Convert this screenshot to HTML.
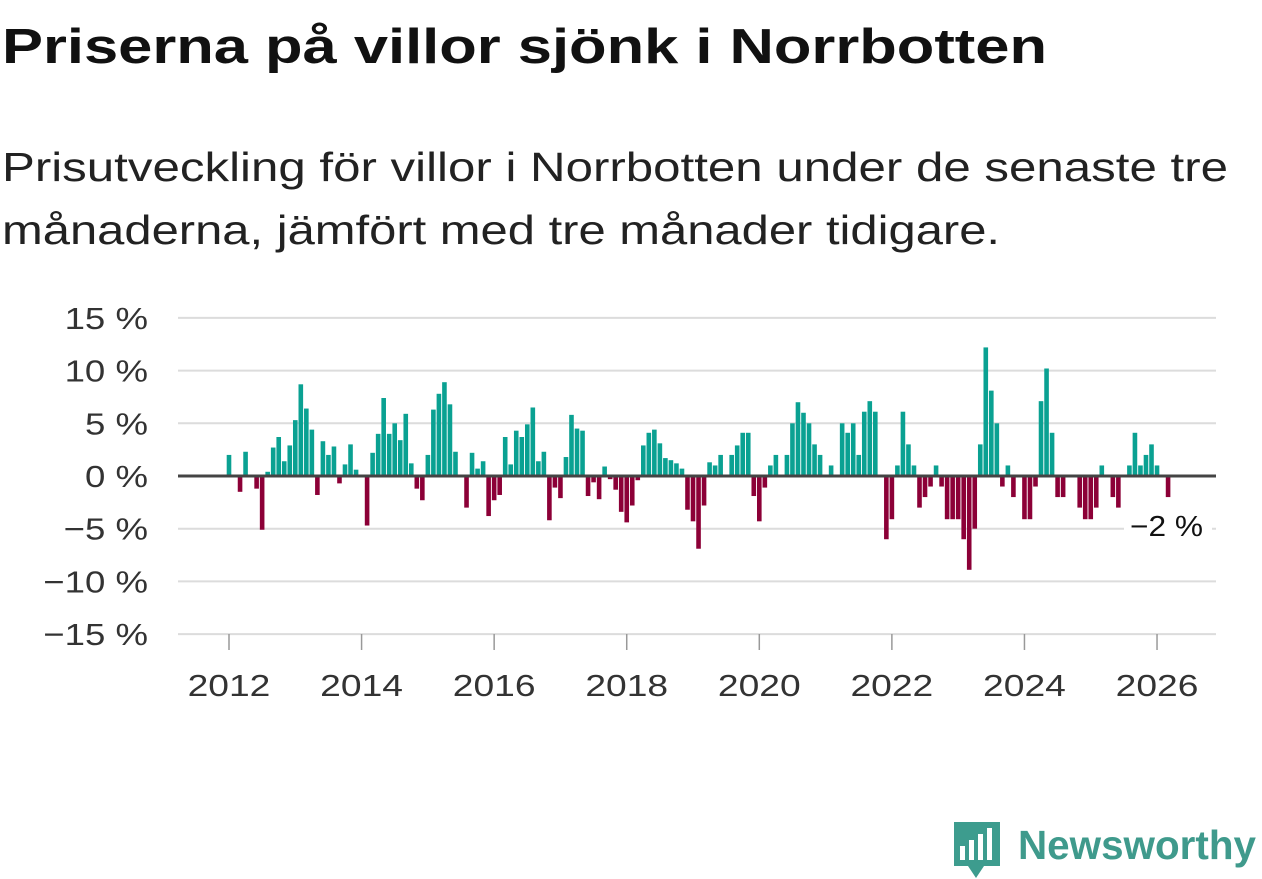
<!DOCTYPE html>
<html><head><meta charset="utf-8"><style>
html,body{margin:0;padding:0;background:#fff;}
svg{display:block;font-family:"Liberation Sans",sans-serif;}
</style></head><body>
<svg id="chart" width="1262" height="879" viewBox="0 0 1262 879" xmlns="http://www.w3.org/2000/svg">
<text x="2" y="63" font-size="49" font-weight="bold" fill="#111" textLength="1045" lengthAdjust="spacingAndGlyphs">Priserna på villor sjönk i Norrbotten</text>
<text x="2" y="181" font-size="41" fill="#222" textLength="1226" lengthAdjust="spacingAndGlyphs">Prisutveckling för villor i Norrbotten under de senaste tre</text>
<text x="2" y="244" font-size="41" fill="#222" textLength="998" lengthAdjust="spacingAndGlyphs">månaderna, jämfört med tre månader tidigare.</text>
<g id="grid"></g><g id="bars"></g><g id="axes"></g>
<g>
<rect x="1124" y="508" width="88" height="36" fill="#fff"/>
<text x="1130" y="536" font-size="29" fill="#111" textLength="73" lengthAdjust="spacingAndGlyphs">−2 %</text>
</g>
<g>
<path d="M954 822 h46 v44 h-16 l-8 12 l-8 -12 h-14 z" fill="#3d9c8e"/>
<rect x="960" y="846" width="5" height="14" fill="#fff"/>
<rect x="969" y="840" width="5" height="20" fill="#fff"/>
<rect x="978" y="834" width="5" height="26" fill="#fff"/>
<rect x="987" y="828" width="5" height="32" fill="#fff"/>
<text x="1018" y="859" font-size="41" font-weight="bold" fill="#3f9a8c" textLength="238" lengthAdjust="spacingAndGlyphs">Newsworthy</text>
</g>
</svg>
<script>
const values = [2.0,0,-1.5,2.3,0,-1.2,-5.1,0.4,2.7,3.7,1.4,2.9,5.3,8.7,6.4,4.4,-1.8,3.3,2.0,2.8,-0.7,1.1,3.0,0.6,0,-4.7,2.2,4.0,7.4,4.0,5.0,3.4,5.9,1.2,-1.2,-2.3,2.0,6.3,7.8,8.9,6.8,2.3,0,-3.0,2.2,0.7,1.4,-3.8,-2.3,-1.8,3.7,1.1,4.3,3.7,4.9,6.5,1.4,2.3,-4.2,-1.1,-2.1,1.8,5.8,4.5,4.3,-1.9,-0.6,-2.2,0.9,-0.3,-1.3,-3.4,-4.4,-2.8,-0.4,2.9,4.1,4.4,3.1,1.7,1.5,1.2,0.7,-3.2,-4.3,-6.9,-2.8,1.3,1.0,2.0,0,2.0,2.9,4.1,4.1,-1.9,-4.3,-1.1,1.0,2.0,0,2.0,5.0,7.0,6.0,5.0,3.0,2.0,0,1.0,0,5.0,4.1,5.0,2.0,6.1,7.1,6.1,0,-6.0,-4.1,1.0,6.1,3.0,1.0,-3.0,-2.0,-1.0,1.0,-1.0,-4.1,-4.1,-4.1,-6.0,-8.9,-5.0,3.0,12.2,8.1,5.0,-1.0,1.0,-2.0,0,-4.1,-4.1,-1.0,7.1,10.2,4.1,-2.0,-2.0,0,0,-3.0,-4.1,-4.1,-3.0,1.0,0,-2.0,-3.0,0,1.0,4.1,1.0,2.0,3.0,1.0,0,-2.0];
const startYear = 2012;
const yTicks = [15,10,5,0,-5,-10,-15];
const yTickLabels = ["15 %","10 %","5 %","0 %","−5 %","−10 %","−15 %"];
const xYears = [2012,2014,2016,2018,2020,2022,2024,2026];

const NS="http://www.w3.org/2000/svg";
const x0=229, pxPerMonth=5.524, zeroY=476, pxPerPct=10.54;
const xScale = m => x0 + m*pxPerMonth;
const yScale = v => zeroY - v*pxPerPct;
function mk(tag, attrs, parent){const e=document.createElementNS(NS,tag);for(const k in attrs)e.setAttribute(k,attrs[k]);parent.appendChild(e);return e;}
function widen(t,f){const w=t.getComputedTextLength();t.setAttribute('textLength',w*f);t.setAttribute('lengthAdjust','spacingAndGlyphs');}
const grid=document.getElementById('grid'), bars=document.getElementById('bars'), axes=document.getElementById('axes');
yTicks.forEach((t,i)=>{
  const y=yScale(t);
  if(t!==0){const l=mk('line',{x1:178,x2:1216,y1:y,y2:y,stroke:'#dcdcdc','stroke-width':2},grid);
  
  }
  const tx=mk('text',{x:148,y:y+11,'font-size':31,fill:'#333','text-anchor':'end'},axes);
  tx.textContent=yTickLabels[i];
  
  
  widen(tx,1.18);
});
values.forEach((v,i)=>{
  if(v===0) return;
  const x=xScale(i)-2.3, y=v>0?yScale(v):zeroY, h=Math.abs(v)*pxPerPct;
  const r=mk('rect',{x:x,y:y,width:4.6,height:h,fill:v>0?'#0aa192':'#8c0037'},bars);
  
  
});
const zl=mk('line',{x1:178,x2:1216,y1:zeroY,y2:zeroY,stroke:'#444','stroke-width':3},axes);


xYears.forEach(yr=>{
  const x=xScale((yr-startYear)*12);
  const tk=mk('line',{x1:x,x2:x,y1:634,y2:650,stroke:'#999','stroke-width':1.5},axes);
  
  
  const t=mk('text',{x:x,y:696,'font-size':31,fill:'#333','text-anchor':'middle'},axes);
  t.textContent=yr;
  
  
  widen(t,1.2);
});
</script>
</body></html>
